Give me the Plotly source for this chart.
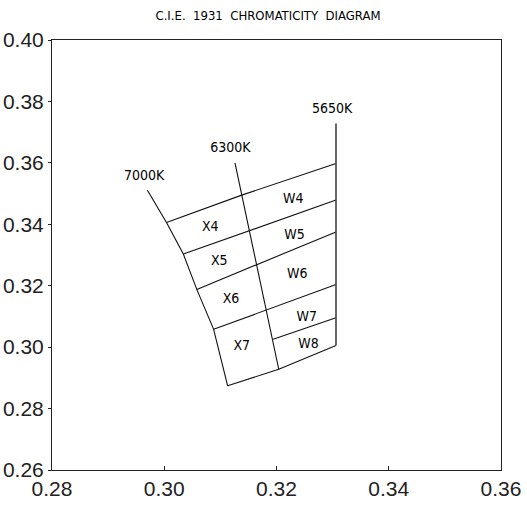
import plotly.graph_objects as go

# Correlated colour temperature lines (x, y chromaticity)
cct_labels = ["7000K", "6300K", "5650K"]
cct_7000_x = [0.2970, 0.3004, 0.3034, 0.3058, 0.3088, 0.3113]
cct_7000_y = [0.3511, 0.3406, 0.3303, 0.3188, 0.3058, 0.2874]
cct_6300_x = [0.3126, 0.3204]
cct_6300_y = [0.3600, 0.2928]
cct_5650_x = [0.3306, 0.3306]
cct_5650_y = [0.3728, 0.3005]
cct_label_x = [0.2964, 0.3118, 0.3299]
cct_label_y = [0.3554, 0.3647, 0.3774]

# Bin boundary lines running across the CCT lines
edge_top_x = [0.3004, 0.3138, 0.3306]
edge_top_y = [0.3406, 0.3495, 0.3598]
edge_45_x = [0.3034, 0.3151, 0.3306]
edge_45_y = [0.3303, 0.3379, 0.3479]
edge_56_x = [0.3058, 0.3165, 0.3306]
edge_56_y = [0.3188, 0.3269, 0.3375]
edge_67_x = [0.3088, 0.3182, 0.3306]
edge_67_y = [0.3058, 0.3121, 0.3204]
edge_78_x = [0.3194, 0.3306]
edge_78_y = [0.3026, 0.3096]
edge_bottom_x = [0.3113, 0.3204, 0.3306]
edge_bottom_y = [0.2874, 0.2928, 0.3005]

# Bin names and their label positions
bin_names = ["X4", "X5", "X6", "X7", "W4", "W5", "W6", "W7", "W8"]
bin_x = [0.3082, 0.3098, 0.3119, 0.3138, 0.3230, 0.3232, 0.3237, 0.3254, 0.3257]
bin_y = [0.3388, 0.3278, 0.3156, 0.3001, 0.3482, 0.3365, 0.3237, 0.3097, 0.3010]

x_ticks = [0.28, 0.30, 0.32, 0.34, 0.36]
y_ticks = [0.26, 0.28, 0.30, 0.32, 0.34, 0.36, 0.38, 0.40]

LINE = dict(color="#111111", width=1.1)
LABEL_FONT = "Liberation Sans Narrow, DejaVu Sans Condensed, Arial Narrow, sans-serif"
TICK_FONT = "Liberation Sans, Arial, sans-serif"

fig = go.Figure()
for xs, ys in [(cct_7000_x, cct_7000_y), (cct_6300_x, cct_6300_y),
               (edge_top_x, edge_top_y), (edge_45_x, edge_45_y),
               (edge_56_x, edge_56_y), (edge_67_x, edge_67_y),
               (edge_78_x, edge_78_y), (edge_bottom_x, edge_bottom_y)]:
    fig.add_trace(go.Scatter(x=xs, y=ys, mode="lines", line=LINE,
                             hoverinfo="skip", showlegend=False))
fig.add_trace(go.Scatter(x=cct_5650_x, y=cct_5650_y, mode="lines",
                         line=dict(color="#444444", width=1.6),
                         hoverinfo="skip", showlegend=False))

fig.add_trace(go.Scatter(x=cct_label_x, y=cct_label_y, mode="text", text=cct_labels,
                         textfont=dict(family=LABEL_FONT, size=14, color="black"),
                         hoverinfo="skip", showlegend=False))
fig.add_trace(go.Scatter(x=bin_x, y=bin_y, mode="text", text=bin_names,
                         textfont=dict(family=LABEL_FONT, size=14, color="black"),
                         hoverinfo="skip", showlegend=False))

fig.update_layout(
    width=527, height=508,
    margin=dict(l=52, r=26, t=40, b=38, autoexpand=False),
    paper_bgcolor="white", plot_bgcolor="white",
    title=dict(text="C.I.E.\u00a0 1931\u00a0 CHROMATICITY\u00a0 DIAGRAM",
               x=268 / 527, xanchor="center", y=1 - 15 / 508, yanchor="middle",
               font=dict(family=LABEL_FONT, size=13, color="black")),
)
fig.update_xaxes(range=[0.28, 0.36], tickvals=x_ticks,
                 ticktext=[f"{v:.2f}" for v in x_ticks], automargin=False,
                 showgrid=False, zeroline=False, showline=True,
                 linecolor="#222222", linewidth=1, mirror=True,
                 ticks="inside", ticklen=4, tickcolor="#222222",
                 tickfont=dict(family=TICK_FONT, size=21, color="#222222"))
fig.update_yaxes(range=[0.26, 0.40], tickvals=y_ticks,
                 ticktext=[f"{v:.2f}" for v in y_ticks], automargin=False,
                 showgrid=False, zeroline=False, showline=True,
                 linecolor="#222222", linewidth=1, mirror=True,
                 ticks="outside", ticklen=3, tickcolor="#222222",
                 tickfont=dict(family=TICK_FONT, size=21, color="#222222"))

# Remove the default page margin so the figure fills the window exactly
fig.write_html("out.html",
               config={"displayModeBar": False},
               post_script="document.body.style.margin='0';document.body.style.overflow='hidden';")
